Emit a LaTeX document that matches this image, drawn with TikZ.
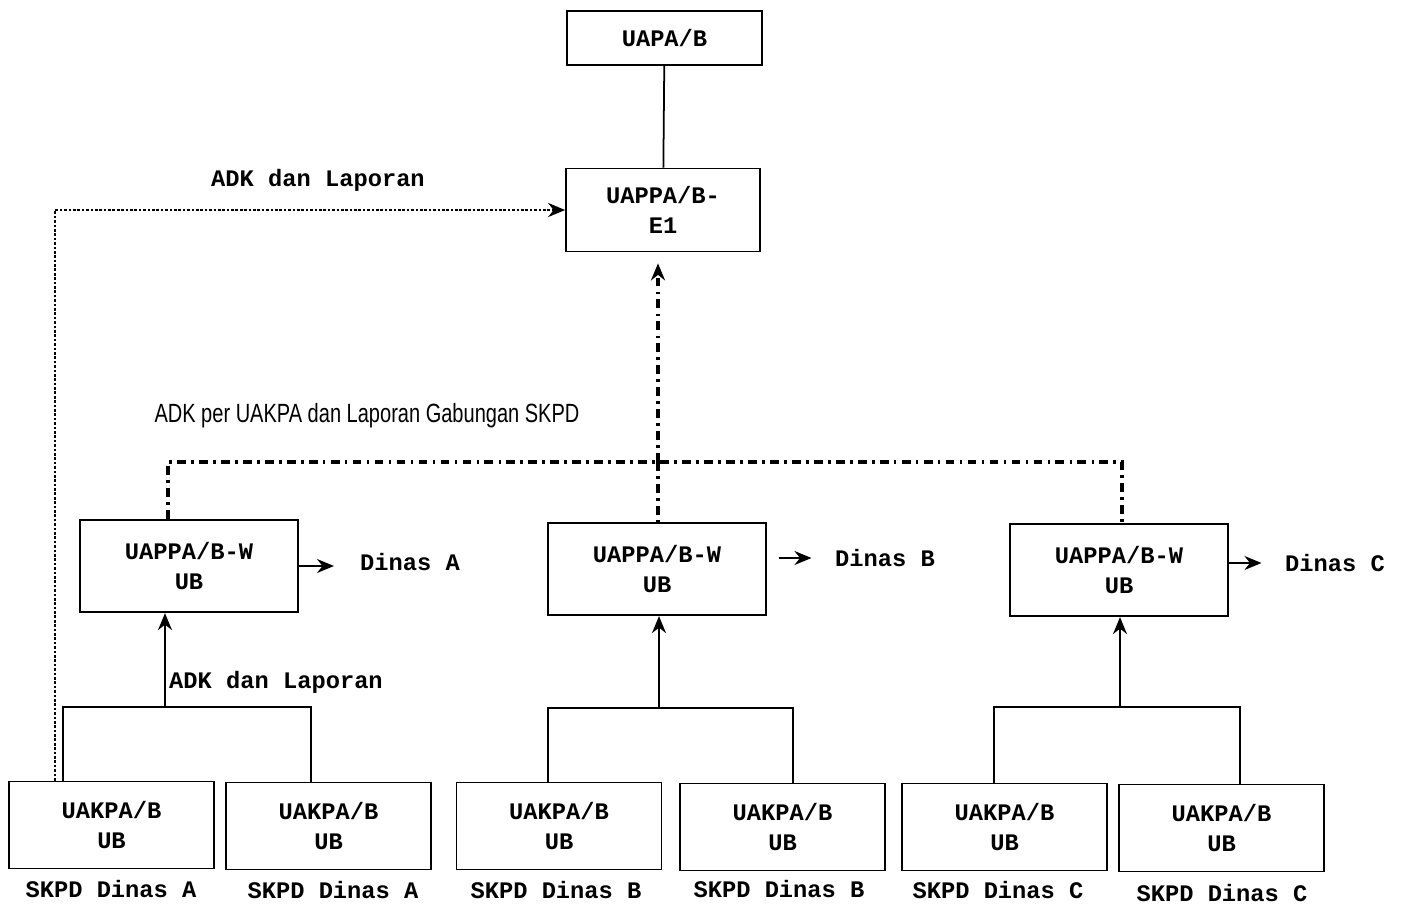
\documentclass[tikz,border=0pt]{standalone}
\usepackage{fontspec}
\setmonofont{Liberation Mono}
\newfontfamily\narrowsans[FakeStretch=0.76]{Liberation Sans}
\usetikzlibrary{shapes.geometric, arrows, arrows.meta}
\tikzstyle{unit} = [rectangle, draw, line width=1pt, align=center, font=\ttfamily\bfseries\fontsize{13.5}{17}\selectfont]
\tikzstyle{top} = [unit, minimum width=3.9cm, minimum height=1.08cm]
\tikzstyle{eselon} = [unit, minimum width=3.88cm, minimum height=1.66cm]
\tikzstyle{wilayah} = [unit, minimum width=4.36cm, minimum height=1.85cm]
\tikzstyle{satker} = [unit, minimum width=4.1cm, minimum height=1.74cm]
\tikzstyle{note} = [font=\ttfamily\bfseries\fontsize{13.5}{17}\selectfont]
\tikzstyle{line} = [line width=1pt]
\tikzstyle{arrow} = [line width=1pt, -{Stealth[length=3.4mm,width=2.8mm]}]
\tikzstyle{kirim} = [line width=1.5pt, densely dotted]
\tikzstyle{gabungan} = [line width=2pt, dash pattern=on 5pt off 3pt on 1.5pt off 3pt]

\begin{document}
\begin{tikzpicture}[x=0.02cm, y=-0.02cm]
    \useasboundingbox (0,0) rectangle (1401,904);

    \node [top] at (664.5,38) (uapa) {UAPA/B};
    \node [eselon] at (663,210) (uappae1) {UAPPA/B-\\E1};
    \node [wilayah] at (189,566) (uappawA) {UAPPA/B-W\\UB};
    \node [wilayah] at (657,569) (uappawB) {UAPPA/B-W\\UB};
    \node [wilayah] at (1119,570) (uappawC) {UAPPA/B-W\\UB};
    \node [satker] at (111.5,825) (uakpaA1) {UAKPA/B\\UB};
    \node [satker] at (328.5,826) (uakpaA2) {UAKPA/B\\UB};
    \node [satker] at (559,826) (uakpaB1) {UAKPA/B\\UB};
    \node [satker] at (782.5,827) (uakpaB2) {UAKPA/B\\UB};
    \node [satker] at (1004.5,827) (uakpaC1) {UAKPA/B\\UB};
    \node [satker] at (1221.5,828) (uakpaC2) {UAKPA/B\\UB};

    \node [note] at (111,889) (skpdA1) {SKPD Dinas A};
    \node [note] at (333,890) (skpdA2) {SKPD Dinas A};
    \node [note] at (556,890) (skpdB1) {SKPD Dinas B};
    \node [note] at (779,889) (skpdB2) {SKPD Dinas B};
    \node [note] at (998,890) (skpdC1) {SKPD Dinas C};
    \node [note] at (1222,893) (skpdC2) {SKPD Dinas C};

    \node [note] at (410,562) (dinasA) {Dinas A};
    \node [note] at (885,558) (dinasB) {Dinas B};
    \node [note] at (1335,563) (dinasC) {Dinas C};

    \node [note] at (318,180) (adkatas) {ADK dan Laporan};
    \node [note] at (276,682) (adkbawah) {ADK dan Laporan};
    \node [font=\narrowsans\fontsize{15}{17}\selectfont] at (367,416) (adkgab) {ADK per UAKPA dan Laporan Gabungan SKPD};

    \coordinate (forkA) at (165,707);
    \coordinate (forkB) at (659,708);
    \coordinate (forkC) at (1120,707);
    \coordinate (gab) at (658,462);

    \draw [line] (uapa) -- (uappae1);
    \draw [kirim, -{Stealth[length=3.4mm,width=2.8mm]}] ([xshift=-1.13cm]uakpaA1.north) |- (uappae1.west);

    \draw [line] ([xshift=-0.97cm]uakpaA1.north) |- (forkA) -| ([xshift=-0.35cm]uakpaA2.north);
    \draw [arrow] (forkA) -- (forkA |- uappawA.south);
    \draw [line] ([xshift=-0.22cm]uakpaB1.north) |- (forkB) -| ([xshift=0.21cm]uakpaB2.north);
    \draw [arrow] (forkB) -- (forkB |- uappawB.south);
    \draw [line] ([xshift=-0.21cm]uakpaC1.north) |- (forkC) -| ([xshift=0.37cm]uakpaC2.north);
    \draw [arrow] (forkC) -- (forkC |- uappawC.south);

    \draw [gabungan] ([xshift=-0.42cm]uappawA.north) |- (gab) -| ([xshift=0.06cm]uappawC.north);
    \draw [gabungan] (gab) -- (gab |- uappawB.north);
    \draw [gabungan, -{Stealth[length=3.4mm,width=2.8mm]}, shorten >=0.22cm] (gab) -- (gab |- uappae1.south);

    \draw [arrow, shorten >=0.4cm] (uappawA.east) -- (uappawA.east -| dinasA.west);
    \draw [arrow, shorten <=0.24cm, shorten >=0.35cm] (uappawB.east |- dinasB) -- (dinasB.west);
    \draw [arrow, shorten >=0.35cm] (uappawC.east |- dinasC) -- (dinasC.west);
\end{tikzpicture}
\end{document}
